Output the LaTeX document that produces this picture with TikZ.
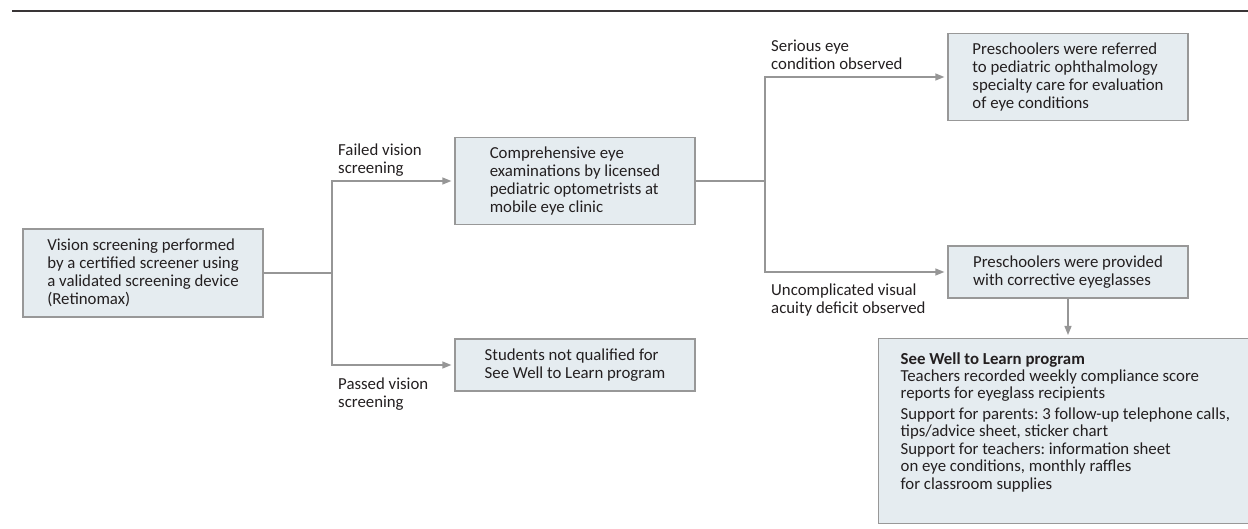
\documentclass[tikz,border=0pt]{standalone}
\usepackage{fontspec}
\setmainfont{Carlito}
\usepackage{tikz}
\usetikzlibrary{arrows.meta}
\definecolor{boxfill}{RGB}{229,236,240}
\definecolor{boxline}{RGB}{152,152,152}
\definecolor{linkgray}{RGB}{150,150,150}
\definecolor{textdark}{RGB}{35,31,32}
\frenchspacing
\tikzset{
every node/.style={font=\fontsize{16.8}{18}\selectfont, text=textdark},
box/.style={draw=boxline, fill=boxfill, line width=1.3pt, align=left, minimum width=240pt, inner sep=0pt},
lbl/.style={align=left, inner sep=0pt, anchor=west},
link/.style={draw=linkgray, line width=1.3pt},
flowarrow/.style={link, -{Triangle[length=9pt,width=7pt]}, shorten >=3pt}
}

\begin{document}
\begin{tikzpicture}[x=1pt, y=-1pt]
      \useasboundingbox (0,0) rectangle (1248,529);
      \draw[line width=1.6pt, color=textdark!90] (12,11) -- (1248,11);
      \node[box, minimum height=88pt] (screen) at (143,273) {Vision screening performed\\by a certified screener using\\a validated screening device\\(Retinomax)};
      \node[box, minimum height=87pt] (exam) at (575,181) {Comprehensive eye\\examinations by licensed\\pediatric optometrists at\\mobile eye clinic};
      \node[box, minimum height=52pt] (notq) at (575,365) {Students not qualified for\\See Well to Learn program};
      \node[box, minimum height=87pt] (refer) at (1068,77) {Preschoolers were referred\\to pediatric ophthalmology\\specialty care for evaluation\\of eye conditions};
      \node[box, minimum height=52pt] (glasses) at (1068,272) {Preschoolers were provided\\with corrective eyeglasses};
      \node[box, anchor=north west, minimum width=370pt, minimum height=185pt, inner ysep=3pt] (program) at (878,338) {\renewcommand{\arraystretch}{0.97}\makebox[370pt][l]{\hspace{22pt}\begin{tabular}[t]{@{}l@{}}
        \textbf{See Well to Learn program}\\
        Teachers recorded weekly compliance score\\
        reports for eyeglass recipients\\[3pt]
        Support for parents: 3 follow-up telephone calls,\\
        tips/advice sheet, sticker chart\\
        Support for teachers: information sheet\\
        on eye conditions, monthly raffles\\
        for classroom supplies\\[16pt]
      \end{tabular}}};
      \node[lbl] (failed) at (338,160) {Failed vision\\screening};
      \node[lbl] (passed) at (338,394) {Passed vision\\screening};
      \node[lbl] (serious) at (771,55) {Serious eye\\condition observed};
      \node[lbl] (uncompl) at (771,300) {Uncomplicated visual\\acuity deficit observed};
      \coordinate (split1) at (332,273);
      \coordinate (split2) at (765,181);
      \draw[link] (screen.east) -- (split1);
      \draw[flowarrow] (split1) |- (exam.west);
      \draw[flowarrow] (split1) |- (notq.west);
      \draw[link] (exam.east) -- (split2);
      \draw[flowarrow] (split2) |- (refer.west);
      \draw[flowarrow] (split2) |- (glasses.west);
      \draw[flowarrow] (glasses.south) -- (glasses.south |- program.north);
    \end{tikzpicture}
\end{document}
